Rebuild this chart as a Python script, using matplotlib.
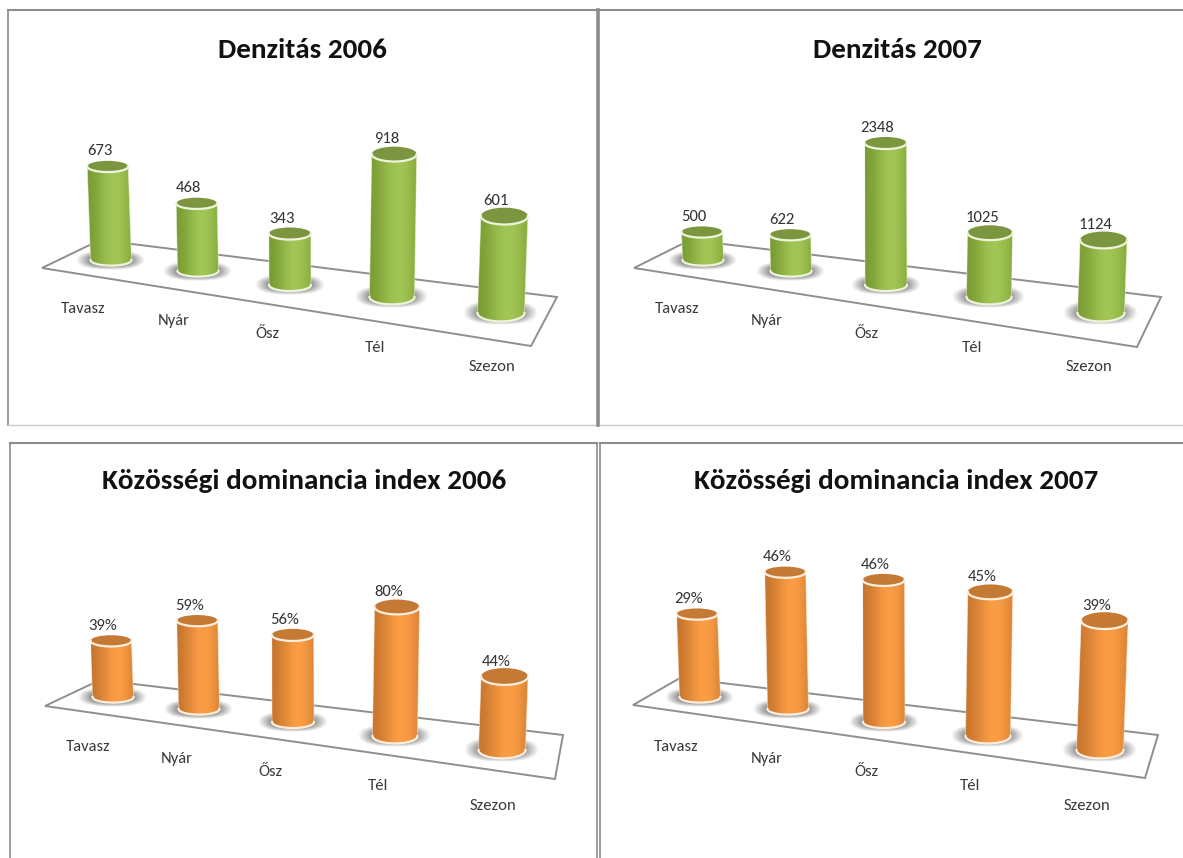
import numpy as np
import matplotlib.pyplot as plt
from matplotlib.patches import Ellipse, Polygon
from matplotlib.colors import to_rgb

plt.rcParams['font.family'] = ['Carlito', 'Lato', 'DejaVu Sans']

categories = ["Tavasz", "Nyár", "Ősz", "Tél", "Szezon"]

density_2006 = [673, 468, 343, 918, 601]
density_2007 = [500, 622, 2348, 1025, 1124]
dominance_2006 = [39, 59, 56, 80, 44]
dominance_2007 = [29, 46, 46, 45, 39]

GREEN = {'edge': '#74962f', 'mid': '#a2c655', 'top': '#7c9640', 'rim': '#eef4dc'}
ORANGE = {'edge': '#c0702c', 'mid': '#fb9d44', 'top': '#c47a34', 'rim': '#fdeedd'}

WIDTH, HEIGHT = 1183, 858

# bar footprint on the tilted floor, back to front
top_base_y = [260, 271, 285, 297, 313]
bottom_base_y = [697, 709, 722, 736, 750]
bar_widths = [41, 41, 42, 45, 47]


def draw_cylinder(ax, x, y, height, width, colors, vx):
    ry = width * (0.13 + 0.007 * (width - 40))
    # columns lean away from the vanishing point
    top_x = x + (x - vx) * 0.00018 * height
    top_y = y - height
    half = width / 2

    # soft floor shadow
    gx, gy = np.meshgrid(np.linspace(-1, 1, 120), np.linspace(-1, 1, 60))
    r = (np.abs(gx) ** 2.4 + np.abs(gy) ** 2.4) ** (1 / 2.4)
    shadow = np.zeros((60, 120, 4))
    shadow[..., :3] = 0.5
    shadow[..., 3] = np.clip((1 - r) * 2.6, 0, 1) * 0.85
    sw, sh = half + 14, ry + 4
    ax.imshow(shadow, extent=(x - sw, x + sw, y + sh, y - sh),
              aspect='auto', zorder=3, interpolation='bilinear')

    # side of the cylinder
    t = np.linspace(np.pi, 0, 40)
    lower = np.column_stack([x + half * np.cos(t), y + ry * np.sin(t)])
    outline = np.vstack([[top_x - half, top_y], lower, [top_x + half, top_y]])
    clip = Polygon(outline, closed=True, transform=ax.transData)

    edge = np.array(to_rgb(colors['edge']))
    mid = np.array(to_rgb(colors['mid']))
    u = np.linspace(0, 1, 200)
    shade = np.exp(-((u - 0.62) / 0.42) ** 2)[:, None]
    grad = (edge + (mid - edge) * shade)[None, :, :]
    left = min(x, top_x) - half
    right = max(x, top_x) + half
    im = ax.imshow(grad, extent=(left, right, y + ry, top_y), aspect='auto', zorder=4)
    im.set_clip_path(clip)

    ax.plot(lower[:, 0], lower[:, 1], color=colors['rim'], lw=1.6, zorder=5)
    ax.plot([x - half, top_x - half], [y, top_y], color=colors['rim'], lw=0.6, alpha=0.6, zorder=5)
    ax.plot([x + half, top_x + half], [y, top_y], color=colors['rim'], lw=0.6, alpha=0.6, zorder=5)
    ax.add_patch(Ellipse((top_x, top_y), width, ry * 2, facecolor=colors['top'],
                         edgecolor='none', zorder=6))
    # only the near half of the top rim is lit
    arc = np.column_stack([top_x + half * np.cos(t), top_y + ry * np.sin(t)])
    ax.plot(arc[:, 0], arc[:, 1], color=colors['rim'], lw=1.6, zorder=7)
    return top_x, top_y


def draw_panel(ax, title, title_xy, values, bar_x, base_y, unit, plane, label_x, label_y,
               colors, suffix=""):
    ax.text(title_xy[0], title_xy[1], title, fontsize=21, fontweight='bold',
            color='#111111', ha='center', va='center', zorder=8)
    ax.add_patch(Polygon(plane, closed=True, facecolor='white', edgecolor='#8f8f8f',
                         lw=1.4, zorder=2))
    vx = (bar_x[0] + bar_x[-1]) / 2
    for i, val in enumerate(values):
        h = val * unit * (1 + 0.04 * i)
        top_x, top_y = draw_cylinder(ax, bar_x[i], base_y[i], h, bar_widths[i], colors, vx)
        ax.text(top_x - 8, top_y - 15, f"{val}{suffix}", fontsize=12, color='#333333',
                ha='center', va='center', zorder=8)
        ax.text(label_x[i], label_y[i], categories[i], fontsize=12, color='#3a3a3a',
                ha='center', va='center', zorder=8)


fig = plt.figure(figsize=(WIDTH / 100, HEIGHT / 100), dpi=100)
ax = fig.add_axes([0, 0, 1, 1])

draw_panel(ax, "Denzitás 2006", (302, 50), density_2006,
           [111, 198, 290, 392, 501], top_base_y, 0.139,
           [(42, 268), (100, 240), (557, 297), (531, 346)],
           [83, 174, 267, 375, 492], [309, 321, 334, 348, 367], GREEN)
draw_panel(ax, "Denzitás 2007", (897, 50), density_2007,
           [703, 791, 886, 989, 1101], top_base_y, 0.056,
           [(634, 268), (690, 240), (1161, 297), (1137, 347)],
           [677, 767, 866, 972, 1089], [309, 321, 334, 348, 367], GREEN)
draw_panel(ax, "Közösségi dominancia index 2006", (304, 481), dominance_2006,
           [113, 199, 293, 395, 502], bottom_base_y, 1.44,
           [(45, 706), (100, 680), (563, 735), (555, 779)],
           [88, 177, 270, 378, 493], [747, 759, 772, 786, 806], ORANGE, "%")
draw_panel(ax, "Közösségi dominancia index 2007", (896, 481), dominance_2007,
           [700, 788, 884, 988, 1100], bottom_base_y, 2.86,
           [(633, 705), (680, 678), (1158, 735), (1145, 778)],
           [676, 767, 866, 970, 1087], [747, 759, 772, 786, 806], ORANGE, "%")

# panel frames
frame = '#8c8c8c'
ax.plot([8, 8], [10, 425], color=frame, lw=1.2, zorder=9)
ax.plot([8, 597], [10, 10], color=frame, lw=1.5, zorder=9)
ax.plot([8, 598], [425, 425], color='#c8c8c8', lw=1, zorder=9)
ax.plot([598, 598], [10, 425], color=frame, lw=2.6, zorder=9)
ax.plot([600, 1183], [10, 10], color=frame, lw=1.5, zorder=9)
ax.plot([600, 1183], [425, 425], color='#c8c8c8', lw=1, zorder=9)
ax.plot([10, 597], [443, 443], color=frame, lw=1.5, zorder=9)
ax.plot([10, 10], [443, 858], color=frame, lw=1.2, zorder=9)
ax.plot([597, 597], [443, 858], color=frame, lw=1.2, zorder=9)
ax.plot([600, 600], [443, 858], color=frame, lw=1.2, zorder=9)
ax.plot([600, 1183], [443, 443], color=frame, lw=1.5, zorder=9)

ax.set_xlim(0, WIDTH)
ax.set_ylim(HEIGHT, 0)
ax.axis('off')

fig.savefig("out.png", dpi=100)
plt.close(fig)
